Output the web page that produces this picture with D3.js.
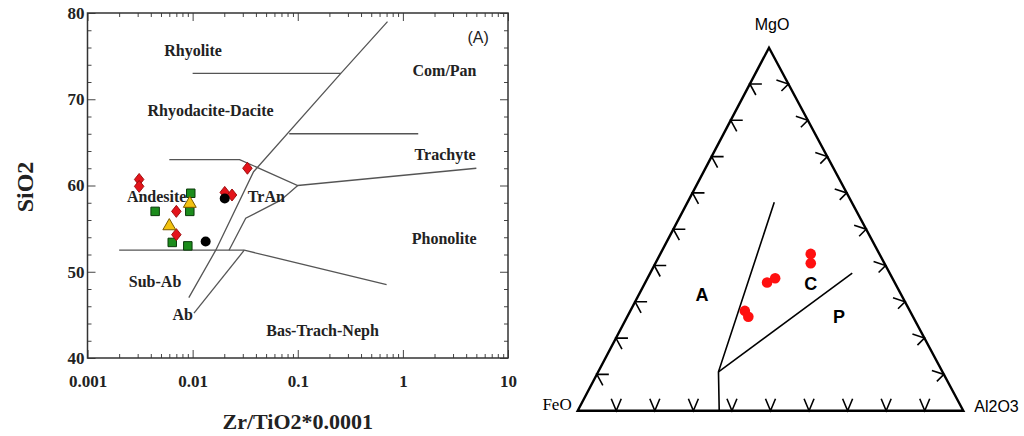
<!DOCTYPE html>
<html>
<head>
<meta charset="utf-8">
<script src="https://cdn.jsdelivr.net/npm/d3@7"></script>
<style>
  body { margin: 0; background: #fff; }
  svg { display: block; }
</style>
</head>
<body>
<div id="chart"></div>
<script>
// ---- left panel: SiO2 vs Zr/TiO2*0.0001 ----
const xTicks = [0.001, 0.01, 0.1, 1, 10];
const xTickLabels = ["0.001", "0.01", "0.1", "1", "10"];
const yTicks = [40, 50, 60, 70, 80];

const diamondZr = [0.0031, 0.0031, 0.007, 0.007, 0.0202, 0.0237, 0.0332];
const diamondSi = [60.7, 59.9, 57.0, 54.3, 59.2, 58.9, 62.0];
const squareZr = [0.0096, 0.0044, 0.0094, 0.0064, 0.009];
const squareSi = [59.1, 57.0, 57.0, 53.4, 53.0];
const triangleZr = [0.0094, 0.006];
const triangleSi = [57.9, 55.3];
const circleZr = [0.0202, 0.0133];
const circleSi = [58.5, 53.5];

// field boundaries, [Zr/TiO2, SiO2] pairs
const boundaryLines = [
  [[0.01, 73], [0.257, 73]],
  [[0.0092, 47.0], [0.0166, 52.5], [0.038, 61.6], [0.257, 73], [0.714, 79]],
  [[0.006, 63], [0.028, 63], [0.1, 60], [5, 62]],
  [[0.083, 66], [1.4, 66]],
  [[0.1, 60], [0.069, 58.3], [0.032, 56.2], [0.0222, 52.5]],
  [[0.002, 52.5], [0.031, 52.5], [0.7, 48.5]],
  [[0.031, 52.5], [0.0103, 45.2]]
];

const regionNames = ["Rhyolite", "Com/Pan", "Rhyodacite-Dacite", "Trachyte", "Andesite",
  "TrAn", "Phonolite", "Sub-Ab", "Ab", "Bas-Trach-Neph"];
const regionZr = [0.0101, 2.49, 0.0148, 2.52, 0.00455, 0.0503, 2.47, 0.00439, 0.00805, 0.172];
const regionSi = [75.7, 73.4, 68.75, 63.65, 58.7, 58.7, 53.9, 48.85, 45.0, 43.25];

// ---- right panel: MgO - FeO - Al2O3 ternary ----
const tickPercents = [10, 20, 30, 40, 50, 60, 70, 80, 90];
const sampleMgO = [43.2, 40.6, 35.3, 36.5, 27.5, 25.9];
const sampleFeO = [17.8, 19.1, 33.1, 30.4, 42.8, 42.7];
const sampleAl2O3 = [39.0, 40.3, 31.6, 33.1, 29.7, 31.4];

// [MgO, FeO, Al2O3]
const fieldLines = [
  [[57.4, 20.1, 22.5], [10.7, 58.1, 31.2], [0, 63.3, 36.7]],
  [[10.7, 58.1, 31.2], [37.9, 9.7, 52.4]]
];
const fieldNames = ["A", "C", "P"];
const fieldMgO = [31.9, 34.9, 25.9];
const fieldFeO = [51.7, 22.0, 19.2];
const fieldAl2O3 = [16.4, 43.1, 54.9];

const svg = d3.select("#chart").append("svg")
  .attr("width", 1024).attr("height", 436)
  .style("background", "#fff");

drawClassification(svg);
drawTernary(svg);

function drawClassification(svg) {
  const left = 87.5, top = 13, width = 420.5, height = 345;
  const serif = "'Liberation Serif', 'Times New Roman', serif";

  const x = d3.scaleLog().domain([0.001, 10]).range([left, left + width]);
  const y = d3.scaleLinear().domain([40, 80]).range([top + height, top]);

  const minorX = [];
  for (let e = -3; e < 1; e++) {
    for (let k = 2; k <= 9; k++) minorX.push(k * Math.pow(10, e));
  }
  const minorY = d3.range(42, 80, 2).filter((v) => v % 10 !== 0);

  const g = svg.append("g");

  // minor ticks, all four sides pointing in
  g.append("g").attr("transform", `translate(0,${top + height})`)
    .call(d3.axisBottom(x).tickValues(minorX).tickSize(-4).tickFormat(""));
  g.append("g").attr("transform", `translate(0,${top})`)
    .call(d3.axisTop(x).tickValues(minorX).tickSize(-4).tickFormat(""));
  g.append("g").attr("transform", `translate(${left},0)`)
    .call(d3.axisLeft(y).tickValues(minorY).tickSize(-4).tickFormat(""));
  g.append("g").attr("transform", `translate(${left + width},0)`)
    .call(d3.axisRight(y).tickValues(minorY).tickSize(-4).tickFormat(""));

  const bottomAxis = g.append("g").attr("transform", `translate(0,${top + height})`)
    .call(d3.axisBottom(x).tickValues(xTicks).tickSize(-8).tickPadding(17)
      .tickFormat((d, i) => xTickLabels[i]));
  g.append("g").attr("transform", `translate(0,${top})`)
    .call(d3.axisTop(x).tickValues(xTicks).tickSize(-8).tickFormat(""));
  const leftAxis = g.append("g").attr("transform", `translate(${left},0)`)
    .call(d3.axisLeft(y).tickValues(yTicks).tickSize(-8).tickPadding(3));
  g.append("g").attr("transform", `translate(${left + width},0)`)
    .call(d3.axisRight(y).tickValues(yTicks).tickSize(-8).tickFormat(""));

  g.selectAll(".domain").remove();
  g.selectAll(".tick line").attr("stroke", "#444").attr("stroke-width", 1);
  [bottomAxis, leftAxis].forEach((a) => a.selectAll("text")
    .attr("font-family", serif).attr("font-size", 17)
    .attr("font-weight", "bold").attr("fill", "#222"));

  g.append("rect")
    .attr("x", left).attr("y", top)
    .attr("width", width).attr("height", height)
    .attr("fill", "none").attr("stroke", "#333").attr("stroke-width", 1.5);

  const line = d3.line().x((d) => x(d[0])).y((d) => y(d[1]));
  g.selectAll(".boundary").data(boundaryLines).enter()
    .append("path")
    .attr("class", "boundary")
    .attr("d", line)
    .attr("fill", "none")
    .attr("stroke", "#555")
    .attr("stroke-width", 1.3);

  g.selectAll(".region").data(regionNames).enter()
    .append("text")
    .attr("x", (d, i) => x(regionZr[i]))
    .attr("y", (d, i) => y(regionSi[i]))
    .attr("dy", "0.35em")
    .attr("text-anchor", "middle")
    .attr("font-family", serif)
    .attr("font-size", 16)
    .attr("font-weight", "bold")
    .attr("fill", "#222")
    .text((d) => d);

  g.append("text")
    .attr("x", x(5.2)).attr("y", y(77.2)).attr("dy", "0.35em")
    .attr("text-anchor", "middle")
    .attr("font-family", "'Liberation Sans', Arial, sans-serif")
    .attr("font-size", 16).attr("fill", "#222")
    .text("(A)");

  // samples
  const squares = d3.zip(squareZr, squareSi);
  g.selectAll(".sq").data(squares).enter()
    .append("path")
    .attr("d", d3.symbol().type(d3.symbolSquare).size(72))
    .attr("transform", (d) => `translate(${x(d[0])},${y(d[1])})`)
    .attr("fill", "#1c8c1c").attr("stroke", "#0b3b0b").attr("stroke-width", 1);

  const diamonds = d3.zip(diamondZr, diamondSi);
  g.selectAll(".dm").data(diamonds).enter()
    .append("path")
    .attr("d", d3.symbol().type(d3.symbolSquare).size(50))
    .attr("transform", (d) => `translate(${x(d[0])},${y(d[1])}) scale(0.95,1.2) rotate(45)`)
    .attr("fill", "#e3141b").attr("stroke", "#9a0a0a").attr("stroke-width", 0.8);

  const triangles = d3.zip(triangleZr, triangleSi);
  g.selectAll(".tr").data(triangles).enter()
    .append("path")
    .attr("d", d3.symbol().type(d3.symbolTriangle).size(72))
    .attr("transform", (d) => `translate(${x(d[0])},${y(d[1])})`)
    .attr("fill", "#f3c20f").attr("stroke", "#7a5a00").attr("stroke-width", 1);

  const circles = d3.zip(circleZr, circleSi);
  g.selectAll(".ci").data(circles).enter()
    .append("circle")
    .attr("cx", (d) => x(d[0])).attr("cy", (d) => y(d[1]))
    .attr("r", 5)
    .attr("fill", "#000");

  // axis titles
  g.append("text")
    .attr("x", left + width / 2).attr("y", 429)
    .attr("text-anchor", "middle")
    .attr("font-family", serif).attr("font-size", 22).attr("font-weight", "bold")
    .attr("fill", "#222")
    .text("Zr/TiO2*0.0001");

  g.append("text")
    .attr("transform", "translate(33,187) rotate(-90)")
    .attr("text-anchor", "middle")
    .attr("font-family", serif).attr("font-size", 24).attr("font-weight", "bold")
    .attr("fill", "#222")
    .text("SiO2");
}

function drawTernary(svg) {
  const sans = "'Liberation Sans', Arial, sans-serif";
  const baseL = 577.7, baseR = 963.3, baseY = 410.7, apexX = 769, apexY = 47.7;
  const lean = (apexX - baseL) / (baseR - baseL);

  // MgO sets the height, Al2O3 (plus MgO lean) sets the horizontal position
  const yScale = d3.scaleLinear().domain([0, 100]).range([baseY, apexY]);
  const xScale = d3.scaleLinear().domain([0, 100]).range([baseL, baseR]);
  const pt = (m, f, a) => {
    const s = (m + f + a) / 100;
    return [xScale((a + m * lean) / s), yScale(m / s)];
  };

  const g = svg.append("g");

  const corners = [pt(100, 0, 0), pt(0, 100, 0), pt(0, 0, 100)];
  g.append("path")
    .attr("d", d3.line()(corners) + "Z")
    .attr("fill", "none").attr("stroke", "#000")
    .attr("stroke-width", 2.4).attr("stroke-linejoin", "miter");

  // arrow-like tick marks on each side
  const tickPath = (p, a1, a2) =>
    `M${p[0] + a1[0]},${p[1] + a1[1]}L${p[0]},${p[1]}L${p[0] + a2[0]},${p[1] + a2[1]}`;

  g.selectAll(".tb").data(tickPercents).enter().append("path")
    .attr("d", (d) => tickPath(pt(0, 100 - d, d), [-5, -12], [5, -12]))
    .attr("fill", "none").attr("stroke", "#000").attr("stroke-width", 1.6);
  g.selectAll(".tl").data(tickPercents).enter().append("path")
    .attr("d", (d) => tickPath(pt(d, 100 - d, 0), [12, 0], [6, 11]))
    .attr("fill", "none").attr("stroke", "#000").attr("stroke-width", 1.6);
  g.selectAll(".trr").data(tickPercents).enter().append("path")
    .attr("d", (d) => tickPath(pt(d, 0, 100 - d), [-12, -4], [-7, 7]))
    .attr("fill", "none").attr("stroke", "#000").attr("stroke-width", 1.6);

  g.selectAll(".field").data(fieldLines).enter().append("path")
    .attr("d", (d) => d3.line()(d.map((c) => pt(c[0], c[1], c[2]))))
    .attr("fill", "none").attr("stroke", "#000").attr("stroke-width", 1.6);

  g.selectAll(".fname").data(fieldNames).enter().append("text")
    .attr("x", (d, i) => pt(fieldMgO[i], fieldFeO[i], fieldAl2O3[i])[0])
    .attr("y", (d, i) => pt(fieldMgO[i], fieldFeO[i], fieldAl2O3[i])[1])
    .attr("dy", "0.35em")
    .attr("text-anchor", "middle")
    .attr("font-family", sans).attr("font-size", 18).attr("font-weight", "bold")
    .text((d) => d);

  const samples = d3.zip(sampleMgO, sampleFeO, sampleAl2O3);
  g.selectAll(".smp").data(samples).enter().append("circle")
    .attr("cx", (d) => pt(d[0], d[1], d[2])[0])
    .attr("cy", (d) => pt(d[0], d[1], d[2])[1])
    .attr("r", 5.3)
    .attr("fill", "#ff1010");

  // vertex labels
  const top = pt(100, 0, 0);
  g.append("text")
    .attr("x", top[0] + 3).attr("y", top[1] - 18)
    .attr("text-anchor", "middle")
    .attr("font-family", sans).attr("font-size", 16)
    .text("MgO");
  const lc = pt(0, 100, 0);
  g.append("text")
    .attr("x", lc[0] - 6).attr("y", lc[1] - 0.5)
    .attr("text-anchor", "end")
    .attr("font-family", "'Liberation Serif', 'Times New Roman', serif").attr("font-size", 17)
    .text("FeO");
  const rc = pt(0, 0, 100);
  g.append("text")
    .attr("x", rc[0] + 11).attr("y", rc[1] + 1)
    .attr("font-family", sans).attr("font-size", 16)
    .text("Al2O3");
}
</script>
</body>
</html>
